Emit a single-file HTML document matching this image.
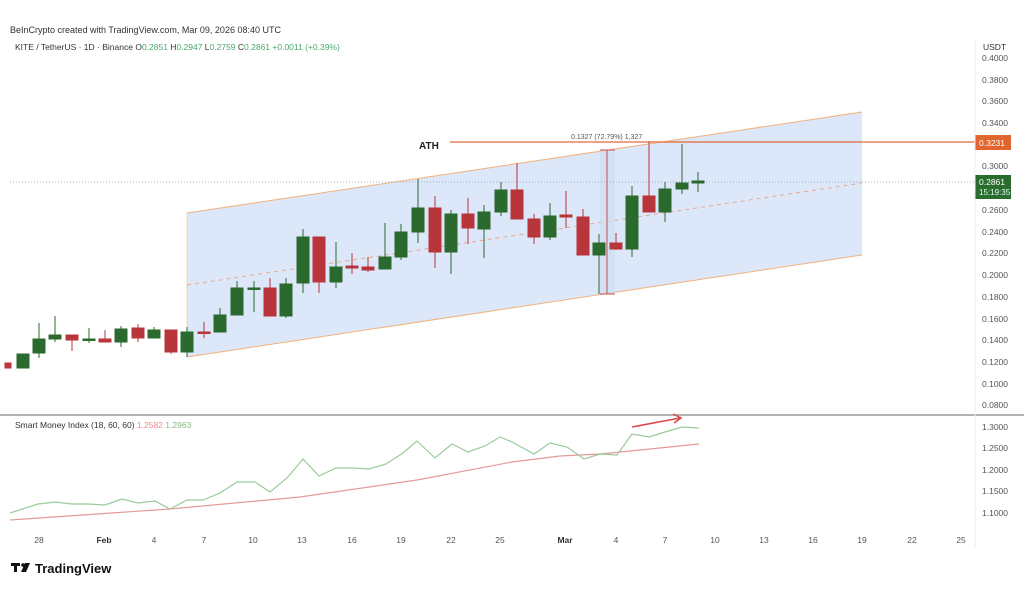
<!DOCTYPE html>
<html><head><meta charset="utf-8"><style>
html,body{margin:0;padding:0;background:#fff;}
svg{display:block;font-family:"Liberation Sans",sans-serif;}
</style></head><body>
<svg width="1024" height="594" viewBox="0 0 1024 594" xmlns="http://www.w3.org/2000/svg">
<rect width="1024" height="594" fill="#fff"/>
<text x="10" y="33" font-size="9" fill="#333">BeInCrypto created with TradingView.com, Mar 09, 2026 08:40 UTC</text>
<text x="15" y="50" font-size="8.5" fill="#333">KITE / TetherUS · 1D · Binance <tspan>O</tspan><tspan fill="#4ca86f">0.2851</tspan> H<tspan fill="#4ca86f">0.2947</tspan> L<tspan fill="#4ca86f">0.2759</tspan> C<tspan fill="#4ca86f">0.2861</tspan> <tspan fill="#4ca86f">+0.0011 (+0.39%)</tspan></text>
<text x="983" y="50" font-size="8.5" fill="#333">USDT</text>
<g font-size="8.5" fill="#555">
<text x="982" y="61">0.4000</text>
<text x="982" y="83">0.3800</text>
<text x="982" y="104">0.3600</text>
<text x="982" y="126">0.3400</text>
<text x="982" y="169">0.3000</text>
<text x="982" y="213">0.2600</text>
<text x="982" y="235">0.2400</text>
<text x="982" y="256">0.2200</text>
<text x="982" y="278">0.2000</text>
<text x="982" y="300">0.1800</text>
<text x="982" y="322">0.1600</text>
<text x="982" y="343">0.1400</text>
<text x="982" y="365">0.1200</text>
<text x="982" y="387">0.1000</text>
<text x="982" y="408">0.0800</text>
<text x="982" y="430">1.3000</text>
<text x="982" y="451">1.2500</text>
<text x="982" y="473">1.2000</text>
<text x="982" y="494">1.1500</text>
<text x="982" y="516">1.1000</text>
</g>
<polygon points="187,213 862,112 862,255 187,357" fill="#dce7fa"/>
<line x1="187" y1="213" x2="862" y2="112" stroke="#f2b27a" stroke-width="1"/>
<line x1="187" y1="357" x2="862" y2="255" stroke="#f2b27a" stroke-width="1"/>
<line x1="187" y1="213" x2="187" y2="357" stroke="#f5d5b5" stroke-width="1"/>
<line x1="187" y1="285" x2="862" y2="183" stroke="#eaa88a" stroke-width="1" stroke-dasharray="4,4"/>
<rect x="600" y="150" width="15" height="144" fill="#cfdcee" opacity="0.6"/>
<line x1="10" y1="182" x2="975" y2="182" stroke="#8a9aa8" stroke-width="0.8" stroke-dasharray="1,2"/>
<g stroke-width="1">
<g stroke="#b8353b" fill="#b8353b">
<line x1="8" y1="363" x2="8" y2="368"/><rect x="5" y="363" width="6" height="5"/>
<line x1="72" y1="335" x2="72" y2="351"/><rect x="66" y="335" width="12" height="5"/>
<line x1="105" y1="330" x2="105" y2="342"/><rect x="99" y="339" width="12" height="3"/>
<line x1="138" y1="324" x2="138" y2="342"/><rect x="132" y="328" width="12" height="10"/>
<line x1="171" y1="330" x2="171" y2="354"/><rect x="165" y="330" width="12" height="22"/>
<line x1="204" y1="322" x2="204" y2="338"/><rect x="198" y="332" width="12" height="1.5"/>
<line x1="270" y1="278" x2="270" y2="316"/><rect x="264" y="288" width="12" height="28"/>
<line x1="319" y1="237" x2="319" y2="293"/><rect x="313" y="237" width="12" height="45"/>
<line x1="352" y1="253" x2="352" y2="274"/><rect x="346" y="266" width="12" height="2"/>
<line x1="368" y1="257" x2="368" y2="272"/><rect x="362" y="267" width="12" height="3"/>
<line x1="435" y1="196" x2="435" y2="268"/><rect x="429" y="208" width="12" height="44"/>
<line x1="468" y1="198" x2="468" y2="244"/><rect x="462" y="214" width="12" height="14"/>
<line x1="517" y1="163" x2="517" y2="219"/><rect x="511" y="190" width="12" height="29"/>
<line x1="534" y1="214" x2="534" y2="244"/><rect x="528" y="219" width="12" height="18"/>
<line x1="566" y1="191" x2="566" y2="228"/><rect x="560" y="215" width="12" height="2"/>
<line x1="583" y1="209" x2="583" y2="255"/><rect x="577" y="217" width="12" height="38"/>
<line x1="616" y1="233" x2="616" y2="250"/><rect x="610" y="243" width="12" height="6"/>
<line x1="649" y1="141" x2="649" y2="212"/><rect x="643" y="196" width="12" height="16"/>
</g>
<g stroke="#2b6a2e" fill="#2b6a2e">
<rect x="17" y="354" width="12" height="14"/>
<line x1="39" y1="323" x2="39" y2="358"/><rect x="33" y="339" width="12" height="14"/>
<line x1="55" y1="316" x2="55" y2="342"/><rect x="49" y="335" width="12" height="4"/>
<line x1="89" y1="328" x2="89" y2="343"/><rect x="83" y="339" width="12" height="1.5"/>
<line x1="121" y1="326" x2="121" y2="347"/><rect x="115" y="329" width="12" height="13"/>
<line x1="154" y1="327" x2="154" y2="338"/><rect x="148" y="330" width="12" height="8"/>
<line x1="187" y1="327" x2="187" y2="357"/><rect x="181" y="332" width="12" height="20"/>
<line x1="220" y1="308" x2="220" y2="332"/><rect x="214" y="315" width="12" height="17"/>
<line x1="237" y1="281" x2="237" y2="315"/><rect x="231" y="288" width="12" height="27"/>
<line x1="254" y1="281" x2="254" y2="312"/><rect x="248" y="288" width="12" height="1.5"/>
<line x1="286" y1="278" x2="286" y2="318"/><rect x="280" y="284" width="12" height="32"/>
<line x1="303" y1="229" x2="303" y2="293"/><rect x="297" y="237" width="12" height="46"/>
<line x1="336" y1="242" x2="336" y2="288"/><rect x="330" y="267" width="12" height="15"/>
<line x1="385" y1="223" x2="385" y2="269"/><rect x="379" y="257" width="12" height="12"/>
<line x1="401" y1="224" x2="401" y2="260"/><rect x="395" y="232" width="12" height="25"/>
<line x1="418" y1="179" x2="418" y2="243"/><rect x="412" y="208" width="12" height="24"/>
<line x1="451" y1="210" x2="451" y2="274"/><rect x="445" y="214" width="12" height="38"/>
<line x1="484" y1="205" x2="484" y2="258"/><rect x="478" y="212" width="12" height="17"/>
<line x1="501" y1="182" x2="501" y2="216"/><rect x="495" y="190" width="12" height="22"/>
<line x1="550" y1="203" x2="550" y2="240"/><rect x="544" y="216" width="12" height="21"/>
<line x1="599" y1="234" x2="599" y2="294"/><rect x="593" y="243" width="12" height="12"/>
<line x1="632" y1="186" x2="632" y2="257"/><rect x="626" y="196" width="12" height="53"/>
<line x1="665" y1="182" x2="665" y2="222"/><rect x="659" y="189" width="12" height="23"/>
<line x1="682" y1="144" x2="682" y2="194"/><rect x="676" y="183" width="12" height="6"/>
<line x1="698" y1="172" x2="698" y2="192"/><rect x="692" y="181" width="12" height="2"/>
</g>
</g>
<line x1="450" y1="142" x2="975" y2="142" stroke="#e06a3a" stroke-width="1.3"/>
<text x="419" y="149" font-size="10" font-weight="bold" fill="#222">ATH</text>
<text x="571" y="139" font-size="7" fill="#555">0.1327 (72.79%) 1,327</text>
<line x1="607" y1="150" x2="607" y2="294" stroke="#c85050" stroke-width="1"/>
<line x1="600" y1="150" x2="615" y2="150" stroke="#c85050" stroke-width="1"/>
<line x1="600" y1="294" x2="615" y2="294" stroke="#c85050" stroke-width="1"/>
<rect x="975" y="135" width="36" height="15" fill="#e0652e"/>
<text x="979" y="146" font-size="8.5" fill="#fff">0.3231</text>
<rect x="975" y="175" width="36" height="24" fill="#2a6b2e"/>
<text x="979" y="185" font-size="8.5" fill="#fff">0.2861</text>
<text x="979" y="195" font-size="8" fill="#dfe">15:19:35</text>
<line x1="0" y1="415" x2="1024" y2="415" stroke="#999" stroke-width="1.5"/>
<line x1="975" y1="40" x2="975" y2="548" stroke="#eee" stroke-width="1"/>
<text x="15" y="428" font-size="8.5" fill="#333">Smart Money Index (18, 60, 60) <tspan fill="#e88a8a">1.2582</tspan> <tspan fill="#7fbf7f">1.2963</tspan></text>
<polyline fill="none" stroke="#e59a9a" stroke-width="1.2" points="10,520 170,509 300,497 417,480 512,462 560,456 600,454 699,444"/>
<polyline fill="none" stroke="#9acb9a" stroke-width="1.2" points="10,513 38,504 55,502 72,504 88,504 105,505 122,499 138,503 155,501 170,509 187,500 203,500 220,493 237,482 255,482 270,492 287,478 303,459 319,476 336,468 353,468 369,469 386,464 403,453 417,441 435,458 452,444 468,452 485,446 500,437 512,442 534,454 550,443 567,447 584,459 600,454 617,455 632,434 649,437 665,432 682,427 699,428"/>
<line x1="632" y1="427" x2="680" y2="418" stroke="#d9464a" stroke-width="1.5"/>
<polyline points="673,414 681,418 674,423" fill="none" stroke="#d9464a" stroke-width="1.5"/>
<g font-size="8.5" fill="#555" text-anchor="middle">
<text x="39" y="543">28</text>
<text x="104" y="543" font-weight="bold" fill="#333">Feb</text>
<text x="154" y="543">4</text>
<text x="204" y="543">7</text>
<text x="253" y="543">10</text>
<text x="302" y="543">13</text>
<text x="352" y="543">16</text>
<text x="401" y="543">19</text>
<text x="451" y="543">22</text>
<text x="500" y="543">25</text>
<text x="565" y="543" font-weight="bold" fill="#333">Mar</text>
<text x="616" y="543">4</text>
<text x="665" y="543">7</text>
<text x="715" y="543">10</text>
<text x="764" y="543">13</text>
<text x="813" y="543">16</text>
<text x="862" y="543">19</text>
<text x="912" y="543">22</text>
<text x="961" y="543">25</text>
</g>
<g fill="#111">
<rect x="11" y="563" width="9" height="3"/><rect x="14" y="563" width="3" height="9"/>
<circle cx="23" cy="565" r="1.8"/>
<polygon points="25,563 30,563 26,572 21,572"/>
</g>
<text x="35" y="573" font-size="13" font-weight="bold" fill="#111">TradingView</text>
</svg>
</body></html>
